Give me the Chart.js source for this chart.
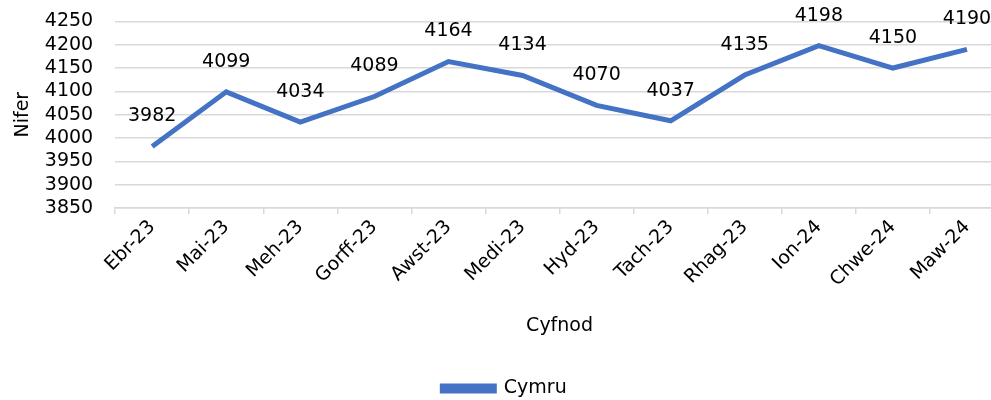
<!DOCTYPE html>
<html>
<head>
<meta charset="utf-8">
<script src="https://cdn.jsdelivr.net/npm/chart.js@4"></script>
<style>
  html, body { margin: 0; padding: 0; background: #fff; overflow: hidden; }
  #wrap { position: relative; width: 1004px; height: 400px; }
</style>
</head>
<body>
<div id="wrap"><canvas id="lineChart"></canvas></div>
<script>
// Data
const months = ['Ebr-23', 'Mai-23', 'Meh-23', 'Gorff-23', 'Awst-23', 'Medi-23',
                'Hyd-23', 'Tach-23', 'Rhag-23', 'Ion-24', 'Chwe-24', 'Maw-24'];
const cymru = [3982, 4099, 4034, 4089, 4164, 4134, 4070, 4037, 4135, 4198, 4150, 4190];
const yMin = 3850;
const yMax = 4250;
const yStep = 50;

const FONT = 'DejaVu Sans, Verdana, sans-serif';
const BLUE = '#4472C4';

// draws the value above each point
const valueLabels = {
    id: 'valueLabels',
    afterDatasetsDraw(chart) {
        const ctx = chart.ctx;
        const meta = chart.getDatasetMeta(0);
        ctx.save();
        ctx.font = '19px ' + FONT;
        ctx.fillStyle = '#000';
        ctx.textAlign = 'center';
        ctx.textBaseline = 'middle';
        meta.data.forEach(function(pt, i) {
            ctx.fillText(String(cymru[i]), pt.x, pt.y - 30);
        });
        ctx.restore();
    }
};

Chart.defaults.font.family = FONT;
Chart.defaults.font.size = 19;
Chart.defaults.color = '#000';

const ctx = document.getElementById('lineChart').getContext('2d');
new Chart(ctx, {
    type: 'line',
    data: {
        labels: months,
        datasets: [{
            label: 'Cymru',
            data: cymru,
            borderColor: BLUE,
            backgroundColor: BLUE,
            borderWidth: 5,
            pointRadius: 0,
            pointHoverRadius: 0,
            tension: 0,
            fill: false
        }]
    },
    options: {
        responsive: true,
        maintainAspectRatio: false,
        animation: false,
        layout: {
            padding: { top: 0, left: 5, right: 0, bottom: -8 }
        },
        plugins: {
            legend: {
                position: 'bottom',
                labels: {
                    boxWidth: 52,
                    boxHeight: 5,
                    padding: 0
                }
            },
            tooltip: { enabled: false }
        },
        scales: {
            y: {
                min: yMin,
                max: yMax,
                ticks: {
                    stepSize: yStep,
                    padding: 10,
                    autoSkip: false,
                    callback: function(v) { return String(v); }
                },
                grid: {
                    color: '#d9d9d9',
                    lineWidth: 1.5,
                    drawTicks: true,
                    tickLength: 12,
                    tickColor: 'rgba(0,0,0,0)'
                },
                border: { display: false },
                title: { display: true, text: 'Nifer', padding: { top: 7, bottom: 0 } }
            },
            x: {
                offset: true,
                ticks: { minRotation: 45, maxRotation: 45, padding: 2, autoSkip: false },
                grid: {
                    offset: true,
                    drawOnChartArea: false,
                    color: '#d9d9d9',
                    lineWidth: 1.5,
                    tickLength: 6
                },
                border: { color: '#d9d9d9', width: 1.5 },
                title: { display: true, text: 'Cyfnod', padding: { top: 21, bottom: 42 } }
            }
        }
    },
    plugins: [valueLabels]
});
</script>
</body>
</html>
